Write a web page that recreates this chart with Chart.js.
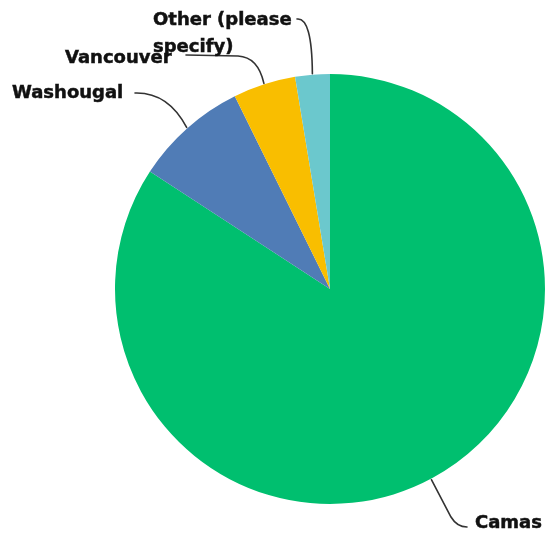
<!DOCTYPE html>
<html>
<head>
<meta charset="utf-8">
<script src="https://cdn.jsdelivr.net/npm/chart.js@4"></script>
<style>
  html, body { margin: 0; padding: 0; background: #ffffff; }
  #wrap { width: 549px; height: 539px; }
</style>
</head>
<body>
<div id="wrap"><canvas id="c" width="549" height="539"></canvas></div>
<script>
// ---- data ----
const categories = ["Camas", "Washougal", "Vancouver", "Other (please specify)"];
const values = [84.2, 8.5, 4.7, 2.6];
const colors = ["#00BF6F", "#507CB6", "#F9BE00", "#6BC8CD"];

// label layout: text lines, left x, first baseline; leader: start point, optional straight run, curve control, then to arc
const labelLayout = [
  { lines: ["Camas"], x: 475, y: 528, start: [467, 527], run: [], curve: [[457, 527], [451, 517]], angle: 152 },
  { lines: ["Washougal"], x: 12, y: 98, start: [135, 93], run: [], curve: [[168, 92], null] },
  { lines: ["Vancouver"], x: 65, y: 63, start: [186, 55], run: [[238, 56]], curve: [[258, 57], null] },
  { lines: ["Other (please", "specify)"], x: 153, y: 25, start: [297, 19], run: [], curve: [[312, 17], null] }
];

const leaderPlugin = {
  id: 'leaders',
  afterDraw(chart) {
    const ctx = chart.ctx;
    const meta = chart.getDatasetMeta(0);
    ctx.save();
    meta.data.forEach((arc, i) => {
      const L = labelLayout[i];
      const p = arc.getProps(['x', 'y', 'startAngle', 'endAngle', 'outerRadius'], true);
      const ang = (L.angle !== undefined) ? (L.angle - 90) * Math.PI / 180 : (p.startAngle + p.endAngle) / 2;
      const r = p.outerRadius + 1;
      const ex = p.x + Math.cos(ang) * r;
      const ey = p.y + Math.sin(ang) * r;
      ctx.beginPath();
      ctx.strokeStyle = '#333333';
      ctx.lineWidth = 1.6;
      ctx.lineCap = 'round';
      ctx.moveTo(L.start[0], L.start[1]);
      L.run.forEach(pt => ctx.lineTo(pt[0], pt[1]));
      const c = L.curve[0];
      const end = L.curve[1] || [ex, ey];
      ctx.quadraticCurveTo(c[0], c[1], end[0], end[1]);
      if (L.curve[1]) ctx.lineTo(ex, ey);
      ctx.stroke();
    });
    ctx.fillStyle = '#111111';
    ctx.strokeStyle = '#111111';
    ctx.lineWidth = 0.5;
    ctx.font = "bold 18px 'DejaVu Sans'";
    ctx.textAlign = 'left';
    ctx.textBaseline = 'alphabetic';
    labelLayout.forEach(L => {
      L.lines.forEach((t, j) => {
        ctx.fillText(t, L.x, L.y + j * 27);
        ctx.strokeText(t, L.x, L.y + j * 27);
      });
    });
    ctx.restore();
  }
};

new Chart(document.getElementById('c'), {
  type: 'pie',
  data: {
    labels: categories,
    datasets: [{
      data: values,
      backgroundColor: colors,
      borderWidth: 0
    }]
  },
  options: {
    responsive: false,
    animation: false,
    layout: { padding: { left: 115, right: 4, top: 74, bottom: 35 } },
    plugins: {
      legend: { display: false },
      tooltip: { enabled: false }
    }
  },
  plugins: [leaderPlugin]
});
</script>
</body>
</html>
